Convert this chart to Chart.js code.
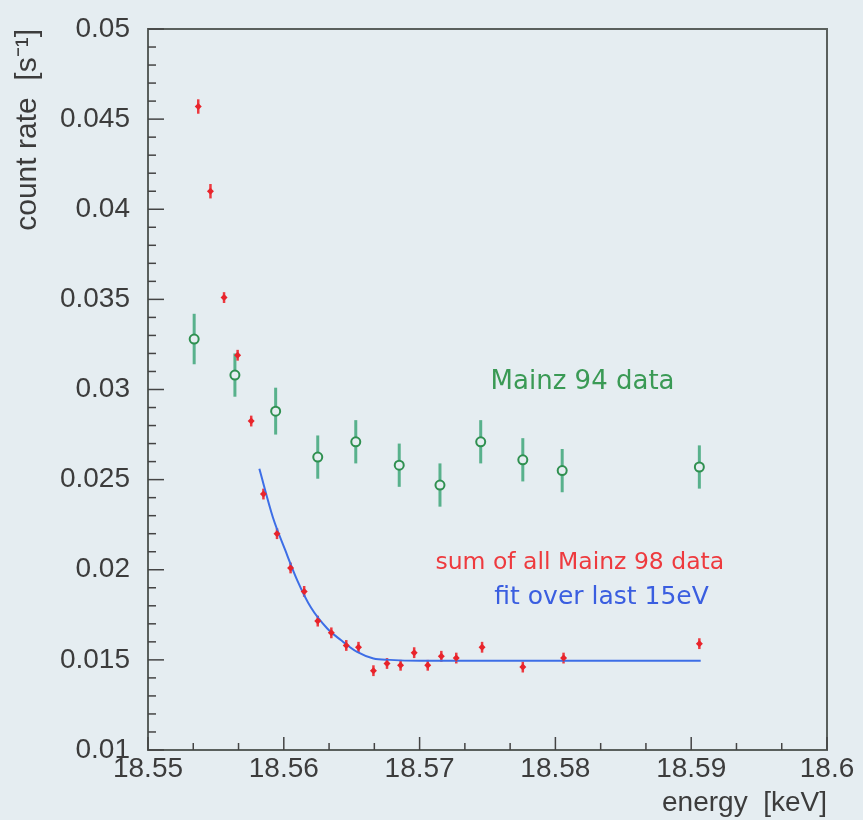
<!DOCTYPE html>
<html>
<head>
<meta charset="utf-8">
<script src="https://cdn.jsdelivr.net/npm/chart.js@4"></script>
<style>
  html, body { margin: 0; padding: 0; background: #e5edf1; }
  #wrap { width: 863px; height: 820px; }
</style>
</head>
<body>
<div id="wrap"><canvas id="chart" width="863" height="820"></canvas></div>
<script>
// Mainz 98 (sum of all data)
const m98Energy = [18.5537, 18.5546, 18.5556, 18.5566, 18.5576, 18.5585, 18.5595, 18.5605,
  18.5615, 18.5625, 18.5635, 18.5646, 18.5655, 18.5666, 18.5676, 18.5686, 18.5696, 18.5706,
  18.5716, 18.5727, 18.5746, 18.5776, 18.5806, 18.5906];
const m98Rate = [0.0457, 0.0410, 0.0351, 0.0319, 0.02825, 0.0242, 0.0220, 0.0201,
  0.0188, 0.01715, 0.0165, 0.0158, 0.0157, 0.0144, 0.0148, 0.0147, 0.0154, 0.0147,
  0.0152, 0.0151, 0.0157, 0.0146, 0.0151, 0.0159];
const m98Err = [0.0004, 0.0004, 0.0003, 0.0003, 0.0003, 0.0003, 0.0003, 0.0003,
  0.0003, 0.0003, 0.0003, 0.0003, 0.0003, 0.0003, 0.0003, 0.0003, 0.0003, 0.0003,
  0.0003, 0.0003, 0.0003, 0.0003, 0.0003, 0.0003];

// Mainz 94 data
const m94Energy = [18.5534, 18.5564, 18.5594, 18.5625, 18.5653, 18.5685, 18.5715, 18.5745,
  18.5776, 18.5805, 18.5906];
const m94Rate = [0.0328, 0.0308, 0.0288, 0.02625, 0.0271, 0.0258, 0.0247, 0.0271,
  0.0261, 0.0255, 0.0257];
const m94Err = [0.0014, 0.0012, 0.0013, 0.0012, 0.0012, 0.0012, 0.0012, 0.0012,
  0.0012, 0.0012, 0.0012];

// fit over last 15 eV
const fitEnergy = [18.5582, 18.5592, 18.5601, 18.5610, 18.5620, 18.5632, 18.5642, 18.5654,
  18.5666, 18.5678, 18.5700, 18.5907];
const fitRate = [0.0256, 0.0229, 0.0211, 0.0194, 0.0179, 0.01674, 0.0161, 0.01544,
  0.01508, 0.0150, 0.01495, 0.01495];

const xTickMinor = 0.01 / 3;
const yTickMinor = 0.001;

const toPts = (xs, ys) => xs.map((x, i) => ({ x: x, y: ys[i] }));

// error bars + frame + inner ticks + text labels
const extras = {
  id: "extras",
  beforeDatasetsDraw(chart) {
    const ctx = chart.ctx;
    const xs = chart.scales.x, ys = chart.scales.y;
    ctx.save();
    ctx.lineCap = "butt";
    ctx.strokeStyle = "#58b18c";
    ctx.lineWidth = 3;
    m94Energy.forEach((e, i) => {
      const px = xs.getPixelForValue(e);
      ctx.beginPath();
      ctx.moveTo(px, ys.getPixelForValue(m94Rate[i] - m94Err[i]));
      ctx.lineTo(px, ys.getPixelForValue(m94Rate[i] + m94Err[i]));
      ctx.stroke();
    });
    ctx.strokeStyle = "#ec3a40";
    ctx.lineWidth = 2.5;
    m98Energy.forEach((e, i) => {
      const px = xs.getPixelForValue(e);
      ctx.beginPath();
      ctx.moveTo(px, ys.getPixelForValue(m98Rate[i] - m98Err[i]));
      ctx.lineTo(px, ys.getPixelForValue(m98Rate[i] + m98Err[i]));
      ctx.stroke();
    });
    ctx.restore();
  },
  afterDraw(chart) {
    const ctx = chart.ctx;
    const a = chart.chartArea;
    const xs = chart.scales.x, ys = chart.scales.y;
    ctx.save();
    ctx.strokeStyle = "#5a605d";
    ctx.lineWidth = 2;
    ctx.strokeRect(a.left, a.top, a.right - a.left, a.bottom - a.top);
    ctx.lineWidth = 1.5;
    ctx.strokeStyle = "#444";
    // x ticks
    for (let k = 0; k <= 15; k++) {
      const v = 18.55 + k * xTickMinor;
      const px = xs.getPixelForValue(v);
      const len = k % 3 === 0 ? 13 : 7;
      ctx.beginPath();
      ctx.moveTo(px, a.bottom);
      ctx.lineTo(px, a.bottom - len);
      ctx.stroke();
    }
    // y ticks
    for (let k = 0; k <= 40; k++) {
      const v = 0.01 + k * yTickMinor;
      const py = ys.getPixelForValue(v);
      const len = k % 5 === 0 ? 16 : 8;
      ctx.beginPath();
      ctx.moveTo(a.left, py);
      ctx.lineTo(a.left + len, py);
      ctx.stroke();
    }
    // labels
    ctx.textAlign = "center";
    ctx.textBaseline = "middle";
    ctx.font = "26px 'DejaVu Sans'";
    ctx.fillStyle = "#3a9a55";
    ctx.fillText("Mainz 94 data", xs.getPixelForValue(18.5820), ys.getPixelForValue(0.0304));
    ctx.font = "23.5px 'DejaVu Sans'";
    ctx.fillStyle = "#ee3a3e";
    ctx.fillText("sum of all Mainz 98 data", xs.getPixelForValue(18.5818), ys.getPixelForValue(0.0204));
    ctx.font = "25px 'DejaVu Sans'";
    ctx.fillStyle = "#3a5ee0";
    ctx.fillText("fit over last 15eV", xs.getPixelForValue(18.5834), ys.getPixelForValue(0.01848));
    ctx.restore();
  }
};

const ctx = document.getElementById("chart").getContext("2d");
new Chart(ctx, {
  type: "scatter",
  data: {
    datasets: [
      {
        label: "fit over last 15eV",
        data: toPts(fitEnergy, fitRate),
        showLine: true,
        borderColor: "#3d6ee6",
        borderWidth: 2,
        pointRadius: 0,
        cubicInterpolationMode: "monotone",
        order: 3
      },
      {
        label: "Mainz 94 data",
        data: toPts(m94Energy, m94Rate),
        pointStyle: "circle",
        pointRadius: 4.5,
        borderWidth: 2,
        borderColor: "#2f9050",
        backgroundColor: "#e5edf1",
        order: 2
      },
      {
        label: "sum of all Mainz 98 data",
        data: toPts(m98Energy, m98Rate),
        pointStyle: "rectRot",
        pointRadius: 3.5,
        borderWidth: 0,
        backgroundColor: "#e8242b",
        order: 1
      }
    ]
  },
  options: {
    responsive: false,
    animation: false,
    layout: { padding: { top: 29, right: 36, left: 0, bottom: 0 } },
    plugins: { legend: { display: false }, tooltip: { enabled: false } },
    scales: {
      x: {
        type: "linear",
        min: 18.55,
        max: 18.6,
        grid: { display: false, drawTicks: false },
        border: { display: false },
        ticks: {
          stepSize: 0.01,
          padding: 2,
          color: "#3c3c3c",
          font: { family: "'Liberation Sans'", size: 28 },
          callback: v => Number(v.toFixed(2)).toString()
        },
        title: {
          display: true,
          text: "energy  [keV]",
          align: "end",
          color: "#3c3c3c",
          font: { family: "'Liberation Sans'", size: 28 },
          padding: { top: 0, bottom: 0 }
        },
        afterFit: s => { s.height = 70; s.paddingLeft = 0; s.paddingRight = 0; }
      },
      y: {
        type: "linear",
        min: 0.01,
        max: 0.05,
        grid: { display: false, drawTicks: false },
        border: { display: false },
        ticks: {
          stepSize: 0.005,
          padding: 18,
          color: "#3c3c3c",
          font: { family: "'Liberation Sans'", size: 28 },
          callback: v => Number(v.toFixed(3)).toString()
        },
        title: {
          display: true,
          text: "count rate  [s\u207B\u00B9]",
          align: "end",
          color: "#3c3c3c",
          font: { family: "'Liberation Sans'", size: 30 },
          padding: { top: 10, bottom: 0 }
        },
        afterFit: s => { s.width = 148; s.paddingTop = 0; s.paddingBottom = 0; }
      }
    }
  },
  plugins: [extras]
});
</script>
</body>
</html>
